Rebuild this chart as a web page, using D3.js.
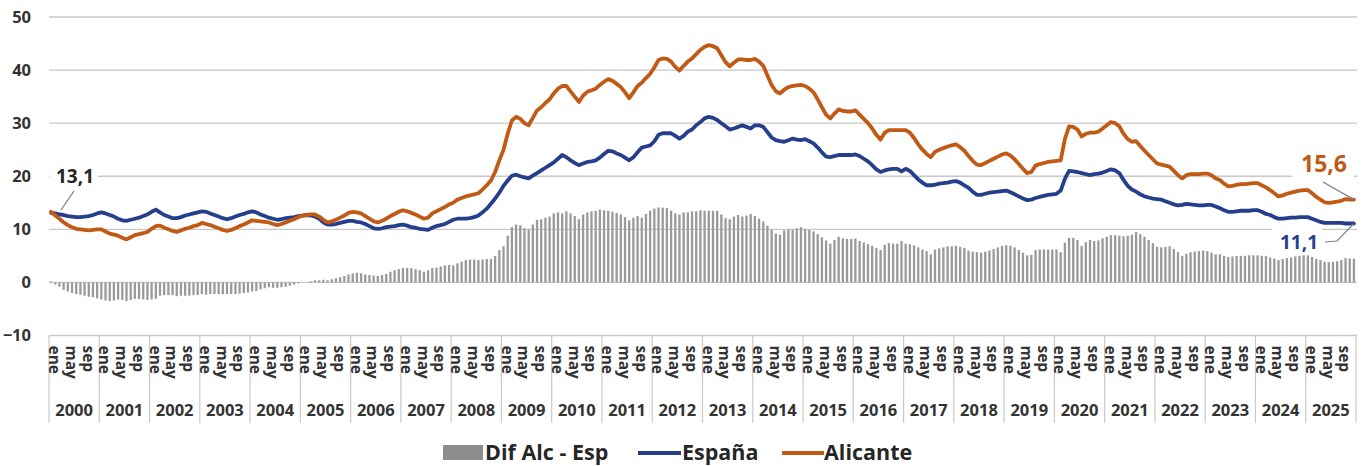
<!DOCTYPE html>
<html>
<head>
<meta charset="utf-8">
<script src="https://cdn.jsdelivr.net/npm/d3@7"></script>
<style>
  html, body { margin: 0; padding: 0; background: #fff; }
  svg { display: block; font-family: "Open Sans", "Noto Sans", sans-serif; }
</style>
</head>
<body>
<svg id="chart" width="1363" height="466"></svg>
<script>
// Monthly series, January 2000 – December 2025
const years = [2000, 2001, 2002, 2003, 2004, 2005, 2006, 2007, 2008, 2009, 2010, 2011, 2012,
               2013, 2014, 2015, 2016, 2017, 2018, 2019, 2020, 2021, 2022, 2023, 2024, 2025];
const monthTickLabels = ["ene", "may", "sep"];
const monthTickIndex = [0, 4, 8];
const yTicks = [-10, 0, 10, 20, 30, 40, 50];

const espana = [
  13.1, 13.0, 12.8, 12.7, 12.5, 12.4, 12.3, 12.3, 12.4, 12.5, 12.7, 13.0,
  13.2, 13.0, 12.7, 12.4, 12.0, 11.7, 11.6, 11.8, 12.0, 12.2, 12.5, 12.8,
  13.3, 13.7, 13.2, 12.7, 12.4, 12.1, 12.1, 12.3, 12.6, 12.8, 13.0, 13.2,
  13.4, 13.3, 13.0, 12.7, 12.4, 12.1, 11.9, 12.1, 12.4, 12.7, 12.9, 13.2,
  13.4, 13.2, 12.8, 12.5, 12.2, 12.0, 11.8, 11.9, 12.1, 12.2, 12.3, 12.5,
  12.6, 12.7, 12.6, 12.4, 12.0, 11.3, 10.9, 10.9, 11.0, 11.2, 11.4, 11.6,
  11.6, 11.4, 11.3, 11.0, 10.6, 10.2, 10.1, 10.2, 10.4, 10.5, 10.6, 10.8,
  10.9, 10.7, 10.4, 10.3, 10.1, 10.0, 9.9, 10.3, 10.6, 10.8, 11.0, 11.4,
  11.8, 12.0, 12.0, 12.0, 12.1, 12.3, 12.6, 13.2, 13.9, 14.8, 15.8, 16.9,
  18.2, 19.2, 20.1, 20.3, 20.0, 19.8, 19.6, 20.1, 20.6, 21.1, 21.6, 22.1,
  22.6, 23.3, 24.0, 23.6, 23.0, 22.5, 22.1, 22.4, 22.7, 22.8, 23.0, 23.5,
  24.2, 24.8, 24.7, 24.3, 24.0, 23.5, 23.0, 23.6, 24.5, 25.4, 25.6, 25.8,
  26.6, 27.8, 28.1, 28.1, 28.1, 27.6, 27.1, 27.6, 28.4, 28.8, 29.6, 30.2,
  30.9, 31.2, 31.0, 30.6, 30.0, 29.4, 28.8, 29.0, 29.3, 29.6, 29.3, 29.0,
  29.6, 29.6, 29.3, 28.3, 27.3, 26.8, 26.6, 26.5, 26.8, 27.1, 26.9, 26.8,
  27.0, 26.6, 26.2, 25.4, 24.5, 23.7, 23.6, 23.8, 24.0, 24.0, 24.0, 24.0,
  24.1, 23.8, 23.3, 22.8, 22.1, 21.3, 20.8, 21.1, 21.3, 21.4, 21.4, 20.9,
  21.4, 21.0, 20.2, 19.4, 18.8, 18.3, 18.3, 18.4, 18.6, 18.7, 18.8, 19.0,
  19.1, 18.8, 18.3, 17.8, 17.1, 16.5, 16.5, 16.7, 16.9, 17.0, 17.1, 17.2,
  17.3, 17.0, 16.6, 16.2, 15.8, 15.5, 15.6, 15.9, 16.1, 16.3, 16.5, 16.6,
  16.7, 17.3, 19.5, 21.0, 20.9, 20.8, 20.6, 20.4, 20.2, 20.4, 20.5, 20.7,
  21.0, 21.3, 21.1, 20.6, 19.3, 18.2, 17.5, 17.1, 16.6, 16.2, 16.0, 15.8,
  15.7, 15.6, 15.3, 15.0, 14.7, 14.5, 14.6, 14.8, 14.7, 14.6, 14.5, 14.5,
  14.6, 14.6, 14.3, 14.0, 13.6, 13.3, 13.3, 13.4, 13.5, 13.5, 13.5, 13.6,
  13.6, 13.3, 12.9, 12.7, 12.3, 12.0, 12.0, 12.1, 12.2, 12.2, 12.3, 12.3,
  12.3, 12.0, 11.7, 11.4, 11.2, 11.2, 11.2, 11.2, 11.2, 11.1, 11.1, 11.1
];

const alicante = [
  13.3, 12.6, 12.0, 11.3, 10.8, 10.4, 10.1, 10.0, 9.9, 9.8, 9.9, 10.0,
  10.0, 9.6, 9.2, 9.0, 8.8, 8.4, 8.1, 8.5, 8.9, 9.1, 9.3, 9.5,
  10.1, 10.6, 10.7, 10.3, 10.0, 9.7, 9.5, 9.8, 10.1, 10.3, 10.6, 10.8,
  11.2, 11.0, 10.8, 10.5, 10.2, 9.9, 9.7, 9.9, 10.2, 10.6, 10.9, 11.3,
  11.7, 11.6, 11.5, 11.4, 11.3, 11.0, 10.8, 11.0, 11.3, 11.6, 11.9, 12.3,
  12.6, 12.7, 12.8, 12.8, 12.4, 11.8, 11.3, 11.5, 11.8, 12.2, 12.6, 13.1,
  13.3, 13.2, 13.0, 12.5, 12.0, 11.5, 11.3, 11.6, 12.0, 12.5, 12.9, 13.3,
  13.6, 13.4, 13.1, 12.8, 12.4, 12.0, 12.2, 13.0, 13.4, 13.8, 14.2, 14.7,
  15.0, 15.6, 15.9, 16.2, 16.4, 16.6, 16.8, 17.5, 18.3, 19.2, 20.8, 23.0,
  25.0, 28.0, 30.5, 31.2, 30.8, 30.0, 29.6, 31.0, 32.4, 33.0, 33.8, 34.5,
  35.6, 36.5, 37.0, 37.0, 36.0, 35.0, 34.0, 35.2, 35.9, 36.2, 36.5, 37.2,
  37.8, 38.3, 38.0, 37.4, 36.8, 35.8, 34.7, 35.8, 37.0, 37.6, 38.5, 39.3,
  40.5, 41.9, 42.2, 42.1, 41.6, 40.6, 39.9, 40.8, 41.6, 42.2, 43.0, 43.8,
  44.4, 44.7, 44.5, 44.1, 42.8, 41.5, 40.7, 41.4, 42.0, 42.0, 41.9, 41.9,
  42.1, 41.6, 40.8, 39.0, 37.2, 36.0, 35.6, 36.3, 36.8, 37.0, 37.1, 37.2,
  37.0, 36.5, 35.8, 34.5, 33.0, 31.6, 30.9, 31.8, 32.6, 32.3, 32.2, 32.2,
  32.4, 31.6, 30.8, 30.0, 29.0, 27.8, 26.9, 28.2, 28.7, 28.7, 28.7, 28.7,
  28.7, 28.2, 27.2, 26.0, 25.0, 24.2, 23.6, 24.6, 25.0, 25.3, 25.6, 25.8,
  26.0, 25.5, 24.8, 23.8, 22.9, 22.2, 22.1, 22.5, 22.9, 23.3, 23.7, 24.1,
  24.3, 23.9, 23.2, 22.3, 21.4, 20.6, 20.8, 22.0, 22.3, 22.5, 22.7, 22.8,
  22.9, 23.0, 27.0, 29.4, 29.3, 28.8, 27.5, 28.0, 28.2, 28.2, 28.4, 29.0,
  29.6, 30.2, 30.0, 29.4, 28.0, 27.0, 26.5, 26.6, 25.7, 24.8, 24.0, 23.2,
  22.4, 22.2, 22.0, 21.8, 21.0, 20.2, 19.6, 20.2, 20.4, 20.4, 20.4, 20.5,
  20.5, 20.2, 19.6, 19.3, 18.6, 18.1, 18.2, 18.4, 18.5, 18.5, 18.6, 18.7,
  18.7, 18.3, 17.9, 17.4, 16.8, 16.2, 16.4, 16.7, 16.9, 17.1, 17.3, 17.4,
  17.4, 16.8, 16.1, 15.6, 15.1, 15.0, 15.1, 15.2, 15.4, 15.7, 15.6, 15.6
];

// Difference Alicante – España for the bar series
const diff = alicante.map((v, i) => +(v - espana[i]).toFixed(1));
const idx = d3.range(espana.length);

const colors = { esp: "#253f8c", alc: "#c05a14", dif: "#9a9a9a", grid: "#c9c9c9", text: "#333333" };
const fmt = v => d3.format(".1f")(v).replace(".", ",");

const svg = d3.select("#chart");
const plotLeft = 49, plotRight = 1356, plotTop = 17, plotBottom = 335.5;

const x = d3.scaleBand().domain(idx).range([plotLeft, plotRight]).paddingInner(0.45).paddingOuter(0.22);
const xc = i => x(i) + x.bandwidth() / 2;
const step = (plotRight - plotLeft) / idx.length;
const y = d3.scaleLinear().domain([-10, 50]).range([plotBottom, plotTop]);

// Horizontal gridlines and value axis
svg.append("g")
  .selectAll("line").data(yTicks.filter(t => t > -10)).join("line")
  .attr("x1", plotLeft).attr("x2", plotRight + 1)
  .attr("y1", d => y(d)).attr("y2", d => y(d))
  .attr("stroke", colors.grid).attr("stroke-width", 1.3);

const yAxis = svg.append("g")
  .attr("transform", `translate(${plotLeft - 18},0)`)
  .call(d3.axisLeft(y).tickValues(yTicks).tickSize(0).tickPadding(0).tickFormat(d3.format("d")));
yAxis.select(".domain").remove();
yAxis.selectAll("text")
  .attr("font-family", "Open Sans, sans-serif")
  .attr("font-size", 16.5).attr("font-weight", 700).attr("fill", colors.text);

// Difference bars
svg.append("g")
  .selectAll("rect").data(idx).join("rect")
  .attr("x", i => x(i))
  .attr("width", x.bandwidth())
  .attr("y", i => y(Math.max(0, diff[i])))
  .attr("height", i => Math.abs(y(diff[i]) - y(0)))
  .attr("fill", colors.dif);

// Lines
const line = data => d3.line().x(i => xc(i)).y(i => y(data[i]))(idx);
[[espana, colors.esp], [alicante, colors.alc]].forEach(([data, c]) => {
  svg.append("path").attr("d", line(data))
    .attr("fill", "none").attr("stroke", c).attr("stroke-width", 3.8)
    .attr("stroke-linejoin", "round").attr("stroke-linecap", "round");
});

// Category axis: month row + year row, framed as a table
const axisG = svg.append("g");
const tableBottom = 423;
axisG.append("line")
  .attr("x1", plotLeft).attr("x2", plotRight + 1).attr("y1", plotBottom).attr("y2", plotBottom)
  .attr("stroke", colors.grid).attr("stroke-width", 1.3);
const yearEdges = years.map((yr, k) => plotLeft + k * 12 * step).concat([plotRight]);
axisG.selectAll("line.sep").data(yearEdges).join("line")
  .attr("class", "sep")
  .attr("x1", d => d).attr("x2", d => d)
  .attr("y1", plotBottom).attr("y2", tableBottom)
  .attr("stroke", colors.grid).attr("stroke-width", 1.2);

years.forEach((yr, k) => {
  monthTickIndex.forEach((m, j) => {
    const i = k * 12 + m;
    if (i >= idx.length) return;
    axisG.append("text")
      .attr("transform", `translate(${xc(i) - 2},${plotBottom + 10}) rotate(90)`)
      .attr("text-anchor", "start")
      .attr("font-size", 15.5).attr("font-weight", 700).attr("fill", colors.text)
      .text(monthTickLabels[j]);
  });
  axisG.append("text")
    .attr("x", (yearEdges[k] + yearEdges[k + 1]) / 2)
    .attr("y", 416)
    .attr("text-anchor", "middle")
    .attr("font-size", 16.5).attr("font-weight", 700).attr("fill", colors.text)
    .text(yr);
});

// Value call-outs with leader lines
const last = idx.length - 1;
const callout = svg.append("g");
function labelBox(cx, cy, w, h) {
  callout.append("rect").attr("x", cx - w / 2).attr("y", cy - h / 2)
    .attr("width", w).attr("height", h).attr("fill", "#fff");
}
// start
labelBox(74, 176, 48, 22);
callout.append("line")
  .attr("x1", 74).attr("y1", 191).attr("x2", xc(0) + 10).attr("y2", y(espana[0]) - 3)
  .attr("stroke", "#7f7f7f").attr("stroke-width", 1.2);
callout.append("text").attr("x", 75).attr("y", 183).attr("text-anchor", "middle")
  .attr("font-size", 19).attr("font-weight", 700).attr("fill", "#262626")
  .text(fmt(espana[0]));
// end, Alicante
labelBox(1323, 165, 62, 30);
callout.append("line")
  .attr("x1", 1323).attr("y1", 182).attr("x2", xc(last)).attr("y2", y(alicante[last]))
  .attr("stroke", "#7f7f7f").attr("stroke-width", 1.2);
callout.append("text").attr("x", 1324).attr("y", 172).attr("text-anchor", "middle")
  .attr("font-size", 23).attr("font-weight", 700).attr("fill", colors.alc)
  .text(fmt(alicante[last]));
// end, España
labelBox(1297, 241, 50, 26);
callout.append("polyline")
  .attr("points", `1325,242 1337,241 ${xc(last)},${y(espana[last])}`)
  .attr("fill", "none").attr("stroke", "#7f7f7f").attr("stroke-width", 1.2);
callout.append("text").attr("x", 1299).attr("y", 249).attr("text-anchor", "middle")
  .attr("font-size", 19).attr("font-weight", 700).attr("fill", colors.esp)
  .text(fmt(espana[last]));

// Legend
const legend = svg.append("g").attr("font-size", 21.5).attr("font-weight", 700).attr("fill", "#262626");
legend.append("rect").attr("x", 443).attr("y", 445).attr("width", 40).attr("height", 15).attr("fill", "#8c8c8c");
legend.append("text").attr("x", 485).attr("y", 460).text("Dif Alc - Esp");
legend.append("line").attr("x1", 638).attr("x2", 681).attr("y1", 453).attr("y2", 453)
  .attr("stroke", colors.esp).attr("stroke-width", 4);
legend.append("text").attr("x", 682).attr("y", 460).text("España");
legend.append("line").attr("x1", 782).attr("x2", 824).attr("y1", 453).attr("y2", 453)
  .attr("stroke", colors.alc).attr("stroke-width", 4);
legend.append("text").attr("x", 824).attr("y", 460).text("Alicante");
</script>
</body>
</html>
